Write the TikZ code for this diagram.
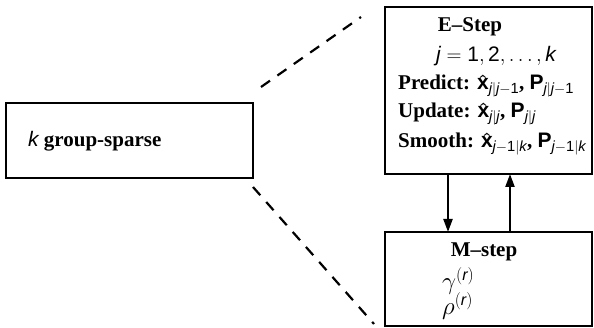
\documentclass[tikz,border=0pt]{standalone}
\usepackage{fontspec}
\usepackage{amsmath}
\setmainfont{Liberation Serif}
\newfontfamily\hv{Liberation Sans}
\usetikzlibrary{arrows.meta}
\newcommand\sv[1]{\text{\hv\itshape #1}}
\newcommand\su[1]{\text{\hv #1}}
\newcommand\bxhat{\boldsymbol{\hat{\text{\hv\bfseries\raisebox{0pt}[9.8pt][0pt]{x}}}}}
\newcommand\bPP{\text{\hv\bfseries P}}
\begin{document}
\begin{tikzpicture}[x=1pt,y=-1pt,
  box/.style={draw,line width=2.2pt,rectangle,inner sep=0pt,outer sep=0pt},
  txt/.style={inner sep=0pt,font=\fontsize{21}{25}\selectfont},
  mtxt/.style={inner sep=0pt,font=\fontsize{23}{27}\selectfont},
  dashline/.style={line width=2.2pt,dash pattern=on 11pt off 9pt},
  arr/.style={line width=2.2pt,-{Triangle[length=13pt,width=9pt]}}]
\useasboundingbox (0,0) rectangle (594,328);
% boxes
\node[box,minimum width=247pt,minimum height=75pt] (L) at (129.5,140.5) {};
\node[box,minimum width=207pt,minimum height=167pt] (E) at (488.5,90.5) {};
\node[box,minimum width=207pt,minimum height=94pt] (M) at (488.5,279) {};
% left text
\node[txt,anchor=base west] (Lt) at (28,147) {$\sv{k}$ \textbf{group-sparse}};
% E texts
\node[txt] (Et) at (470,27) {\textbf{E--Step}};
\node[txt,anchor=base] (Ej) at (496,62) {$\sv{j} = \su{1}, \su{2}, \ldots, \sv{k}$};
\node[txt,anchor=base west] (Ep) at (398,90) {\textbf{Predict:} $\bxhat_{\sv{j}|\sv{j}-\su{1}}$\textbf{,} $\bPP_{\sv{j}|\sv{j}-\su{1}}$};
\node[txt,anchor=base west] (Eu) at (398,118) {\textbf{Update:} $\bxhat_{\sv{j}|\sv{j}}$\textbf{,} $\bPP_{\sv{j}|\sv{j}}$};
\node[txt,anchor=base west] (Es) at (398,148) {\textbf{Smooth:} $\bxhat_{\sv{j}-\su{1}|\sv{k}}$\textbf{,} $\bPP_{\sv{j}-\su{1}|\sv{k}}$};
% M texts
\node[txt] (Mt) at (484,252) {\textbf{M--step}};
\node[mtxt,anchor=base west] (Mg) at (442,290) {$\gamma^{(\sv{r})}$};
\node[mtxt,anchor=base west] (Mr) at (442,315) {$\rho^{(\sv{r})}$};
% arrows
\draw[arr] (E.south -| 448,0) -- (M.north -| 448,0);
\draw[arr] (M.north -| 510,0) -- (E.south -| 510,0);
% dashed zoom lines
\coordinate (u1) at (261,87);
\coordinate (u2) at (361,17);
\coordinate (d1) at (253,187);
\coordinate (d2) at (374,324);
\draw[dashline] (u1) -- (u2);
\draw[dashline] (d1) -- (d2);
\end{tikzpicture}
\end{document}
